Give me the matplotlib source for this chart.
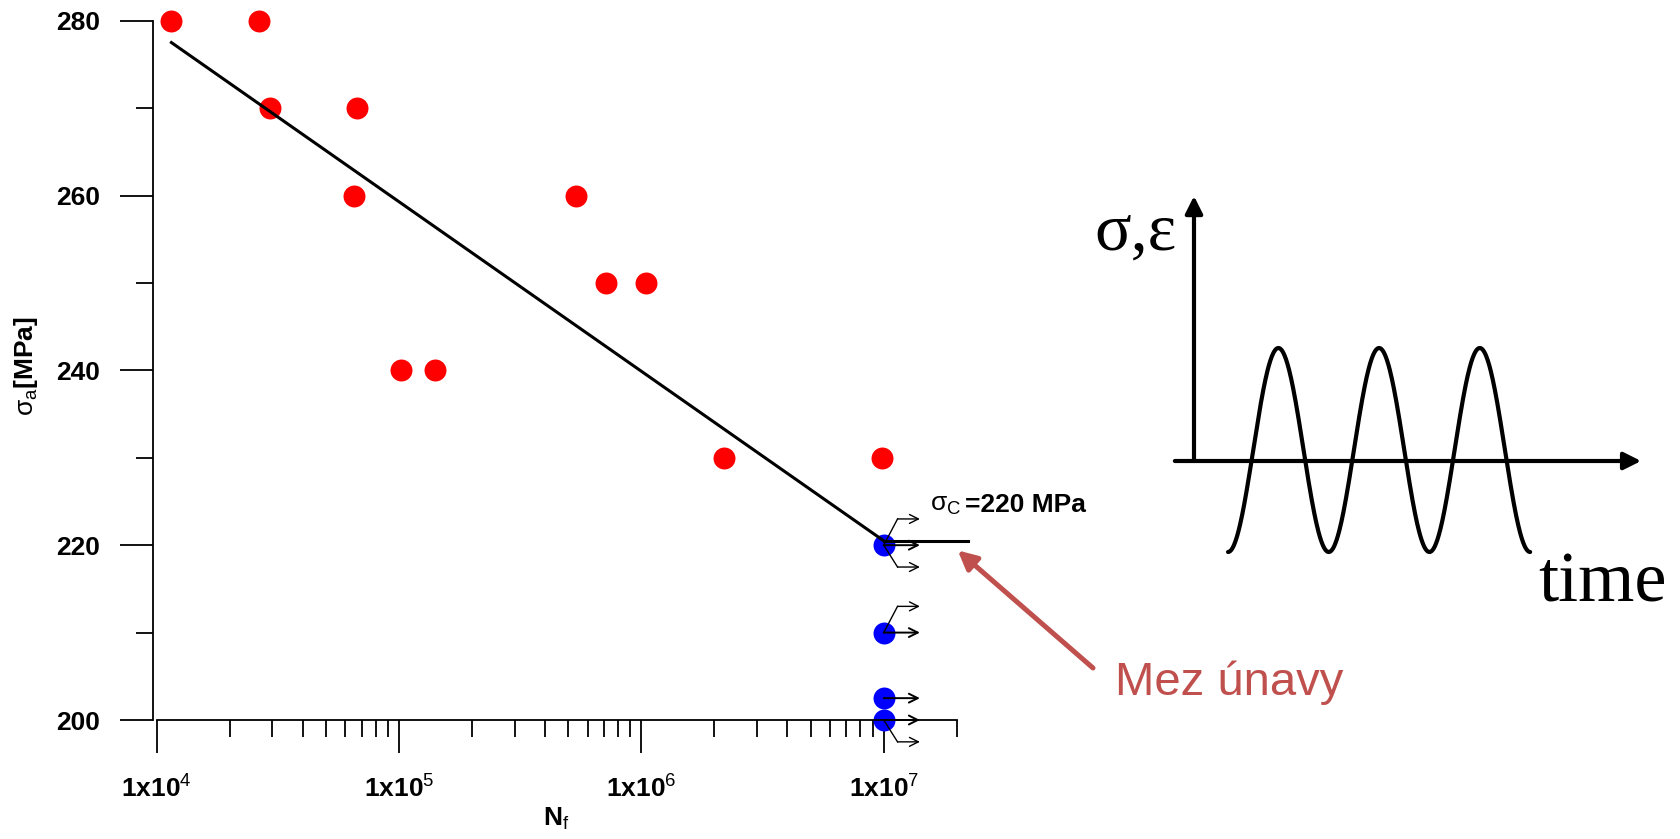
import numpy as np
import matplotlib
matplotlib.use('Agg')
import matplotlib.pyplot as plt
from matplotlib.ticker import LogLocator, NullFormatter, MultipleLocator

# ---------------- data ----------------
failed_cycles = [1.15e4, 2.65e4, 2.93e4, 6.69e4, 6.49e4, 5.38e5, 7.16e5, 1.04e6, 1.02e5, 1.41e5, 2.2e6, 9.8e6]
failed_stress = [280, 280, 270, 270, 260, 260, 250, 250, 240, 240, 230, 230]
runout_cycles = [1.0e7, 1.0e7, 1.0e7, 1.0e7]
runout_stress = [220, 210, 202.5, 200]
runout_arrows = [('up', 'mid', 'down'), ('up', 'mid'), ('mid',), ('mid', 'down')]
fit_cycles = [1.15e4, 1.0e7]
fit_stress = [277.5, 220.5]
limit_cycles = [1.0e7, 2.22e7]
limit_stress = [220.5, 220.5]
xticks = [1e4, 1e5, 1e6, 1e7]
xtick_labels = [r'$\mathbf{1x10}^{\mathrm{4}}$', r'$\mathbf{1x10}^{\mathrm{5}}$',
                r'$\mathbf{1x10}^{\mathrm{6}}$', r'$\mathbf{1x10}^{\mathrm{7}}$']
yticks = [200, 220, 240, 260, 280]
ytick_labels = ['200', '220', '240', '260', '280']
limit_label = '=220 MPa'
annotation_text = 'Mez únavy'

# schematic of cyclic loading (3 sine cycles)
n_cycles = 3
wave_start = 0.338
wave_offset = 0.11
wave_amp = 1.02
wave_t = np.linspace(wave_start, wave_start + n_cycles, 600)
wave_y = wave_offset - wave_amp * np.cos(2 * np.pi * (wave_t - wave_start))

# ---------------- style ----------------
plt.rcParams['mathtext.fontset'] = 'custom'
plt.rcParams['mathtext.rm'] = 'Liberation Sans'
plt.rcParams['mathtext.bf'] = 'Liberation Sans:bold'
plt.rcParams['mathtext.it'] = 'Liberation Sans:italic'
plt.rcParams['font.family'] = ['Liberation Sans', 'DejaVu Sans']

W, H = 1680, 839
fig = plt.figure(figsize=(W / 100, H / 100), dpi=100)
ax = fig.add_axes([156.7 / W, 1 - 720 / H, (956.7 - 156.7) / W, (720 - 20.7) / H])

ax.set_xscale('log')
ax.set_xlim(1e4, 2e7)
ax.set_ylim(200, 280)

ax.scatter(failed_cycles, failed_stress, s=250, color='#ff0000', zorder=2, linewidths=0,
           clip_on=False)
ax.scatter(runout_cycles, runout_stress, s=250, color='#0000ff', zorder=2, linewidths=0,
           clip_on=False)
ax.plot(fit_cycles, fit_stress, color='black', lw=2.2, zorder=3)
ax.plot(limit_cycles, limit_stress, color='black', lw=2.2, zorder=3, clip_on=False)

# run-out arrows
bend, reach, up, down = 1.14, 1.41, 3.0, 2.5
for x, y, kinds in zip(runout_cycles, runout_stress, runout_arrows):
    for k in kinds:
        if k == 'mid':
            y2 = y
            start = (x, y)
        else:
            y2 = y + up if k == 'up' else y - down
            ax.plot([x, x * bend], [y, y2], color='black', lw=1.0, zorder=4, clip_on=False)
            start = (x * bend, y2)
        ax.annotate('', xy=(x * reach, y2), xytext=start,
                    arrowprops=dict(arrowstyle='->', lw=1.4 if k == 'mid' else 1.0,
                                    color='black', shrinkA=0, shrinkB=0,
                                    mutation_scale=16),
                    zorder=4, annotation_clip=False)

# axes styling
for s in ['top', 'right']:
    ax.spines[s].set_visible(False)
ax.spines['left'].set_position(('outward', 2.5))
for s in ['left', 'bottom']:
    ax.spines[s].set_linewidth(1.3)

ax.set_xticks(xticks)
ax.set_xticklabels(xtick_labels)
ax.xaxis.set_minor_locator(LogLocator(base=10, subs=np.arange(2, 10)))
ax.xaxis.set_minor_formatter(NullFormatter())
ax.set_yticks(yticks)
ax.set_yticklabels(ytick_labels, fontweight='bold')
ax.yaxis.set_minor_locator(MultipleLocator(10))
ax.tick_params(axis='both', which='major', length=24, width=1.3, labelsize=19)
ax.tick_params(axis='both', which='minor', length=12, width=1.3)
ax.tick_params(axis='y', which='major', pad=14)
ax.tick_params(axis='x', which='major', pad=16)

ax.set_xlabel(r'$\mathbf{N}_{\mathrm{f}}$', fontsize=19, labelpad=2)
ax.set_ylabel(r'$\mathrm{σ}_{\mathrm{a}}\mathbf{[MPa]}$', fontsize=19)
ax.yaxis.set_label_coords(-0.146, 0.506)

# fatigue limit label
ax.text(1.55e7, 224.6, r'$\mathrm{σ}_{\mathrm{C}}$', fontsize=19, va='center', ha='left',
        clip_on=False)
ax.text(2.16e7, 224.6, limit_label, fontsize=19, fontweight='bold', va='center', ha='left',
        clip_on=False)

# red annotation arrow
red = '#C0504D'
ax.annotate('', xy=(2.02e7, 219.4), xycoords='data',
            xytext=(1093, H - 668), textcoords='figure pixels',
            arrowprops=dict(arrowstyle='-|>', color=red, lw=3.6, mutation_scale=28,
                            shrinkA=0, shrinkB=0),
            annotation_clip=False)
fig.text(1115 / W, 1 - 695 / H, annotation_text, fontsize=34, color=red,
         family='Liberation Sans', va='baseline', ha='left')

# ---------------- schematic diagram ----------------
x0p, x1p, y0p, y1p = 1150, 1680, 180, 620
ax2 = fig.add_axes([x0p / W, 1 - y1p / H, (x1p - x0p) / W, (y1p - y0p) / H])
t0p, period_px, zero_p, amp_px = 1194, 100.7, 461, 100
ax2.set_xlim((x0p - t0p) / period_px, (x1p - t0p) / period_px)
ax2.set_ylim((zero_p - y1p) / amp_px, (zero_p - y0p) / amp_px)
ax2.axis('off')

ax2.plot(wave_t, wave_y, color='black', lw=3.0, solid_capstyle='round')
ax2.annotate('', xy=(4.44, 0), xytext=(-0.19, 0),
             arrowprops=dict(arrowstyle='-|>', color='black', lw=3.0, mutation_scale=26,
                             shrinkA=0, shrinkB=0))
ax2.annotate('', xy=(0, 2.65), xytext=(0, 0),
             arrowprops=dict(arrowstyle='-|>', color='black', lw=3.0, mutation_scale=26,
                             shrinkA=0, shrinkB=0))
ax2.text(-0.17, 2.28, 'σ,ε', fontsize=49, family='Liberation Serif', ha='right', va='center')
ax2.text(3.42, -1.40, 'time', fontsize=52, family='Liberation Serif', ha='left', va='baseline')

fig.savefig('out.png', dpi=100)
